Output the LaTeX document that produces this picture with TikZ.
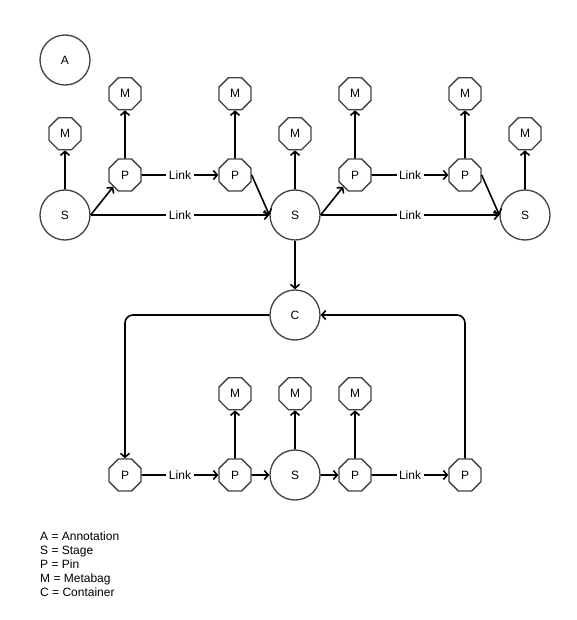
\documentclass[tikz,border=0pt]{standalone}
\usepackage{fontspec}
\setmainfont{Liberation Sans}
\usetikzlibrary{shapes.geometric,arrows.meta,positioning}

\begin{document}
\begin{tikzpicture}[x=1pt,y=-1pt]

\useasboundingbox (0,0) rectangle (576,620);

\tikzstyle{stage} = [draw=black!75, line width=1.3pt, circle, minimum size=50pt, inner sep=0pt, font=\fontsize{12}{14}\selectfont]
\tikzstyle{pin} = [draw=black!75, line width=1.3pt, regular polygon, regular polygon sides=8, minimum size=34.6pt, inner sep=0pt, font=\fontsize{12}{14}\selectfont]
\tikzstyle{link} = [black, line width=1.6pt, -{Straight Barb[length=4pt,width=9pt]}]
\tikzstyle{linktext} = [fill=white, inner sep=2.5pt, font=\fontsize{12}{14}\selectfont]

% annotation
\node [stage] (ann) at (65,60) {A};

% top row
\node [stage] (s1) at (65,215) {S};
\node [stage] (s2) at (295,215) {S};
\node [stage] (s3) at (525,215) {S};
\node [pin] (p1) at (125,175) {P};
\node [pin] (p2) at (235,175) {P};
\node [pin] (p3) at (355,175) {P};
\node [pin] (p4) at (465,175) {P};

\node [pin,above=39pt of s1] (ms1) {M};
\node [pin,above=39pt of s2] (ms2) {M};
\node [pin,above=39pt of s3] (ms3) {M};
\node [pin,above=48pt of p1] (mp1) {M};
\node [pin,above=48pt of p2] (mp2) {M};
\node [pin,above=48pt of p3] (mp3) {M};
\node [pin,above=48pt of p4] (mp4) {M};

% container
\node [stage] (c) at (295,315) {C};

% bottom row
\node [pin] (p5) at (125,475) {P};
\node [pin] (p6) at (235,475) {P};
\node [stage] (s4) at (295,475) {S};
\node [pin] (p7) at (355,475) {P};
\node [pin] (p8) at (465,475) {P};

\node [pin,above=48pt of p6] (mp6) {M};
\node [pin,above=39pt of s4] (ms4) {M};
\node [pin,above=48pt of p7] (mp7) {M};

\draw [link] (s1) -- (ms1);
\draw [link] (s2) -- (ms2);
\draw [link] (s3) -- (ms3);
\draw [link] (p1) -- (mp1);
\draw [link] (p2) -- (mp2);
\draw [link] (p3) -- (mp3);
\draw [link] (p4) -- (mp4);

\draw [link] (s1.east) -- (p1.south west);
\draw [link] (p1) -- node [linktext] {Link} (p2);
\draw [link] (p2.east) -- (s2.west);
\draw [link] (s1) -- node [linktext] {Link} (s2);
\draw [link] (s2.east) -- (p3.south west);
\draw [link] (p3) -- node [linktext] {Link} (p4);
\draw [link] (p4.east) -- (s3.west);
\draw [link] (s2) -- node [linktext] {Link} (s3);

\draw [link] (s2) -- (c);
\draw [link,rounded corners=8pt] (c.west) -| (p5.north);
\draw [link,rounded corners=8pt] (p8.north) |- (c.east);

\draw [link] (p5) -- node [linktext] {Link} (p6);
\draw [link] (p6) -- (s4);
\draw [link] (s4) -- (p7);
\draw [link] (p7) -- node [linktext] {Link} (p8);
\draw [link] (p6) -- (mp6);
\draw [link] (s4) -- (ms4);
\draw [link] (p7) -- (mp7);

% legend
\node [anchor=north west, align=left, inner sep=0pt, font=\fontsize{12}{14}\selectfont] (legend) at (40,532)
  {A = Annotation\\S = Stage\\P = Pin\\M = Metabag\\C = Container};

\end{tikzpicture}
\end{document}
